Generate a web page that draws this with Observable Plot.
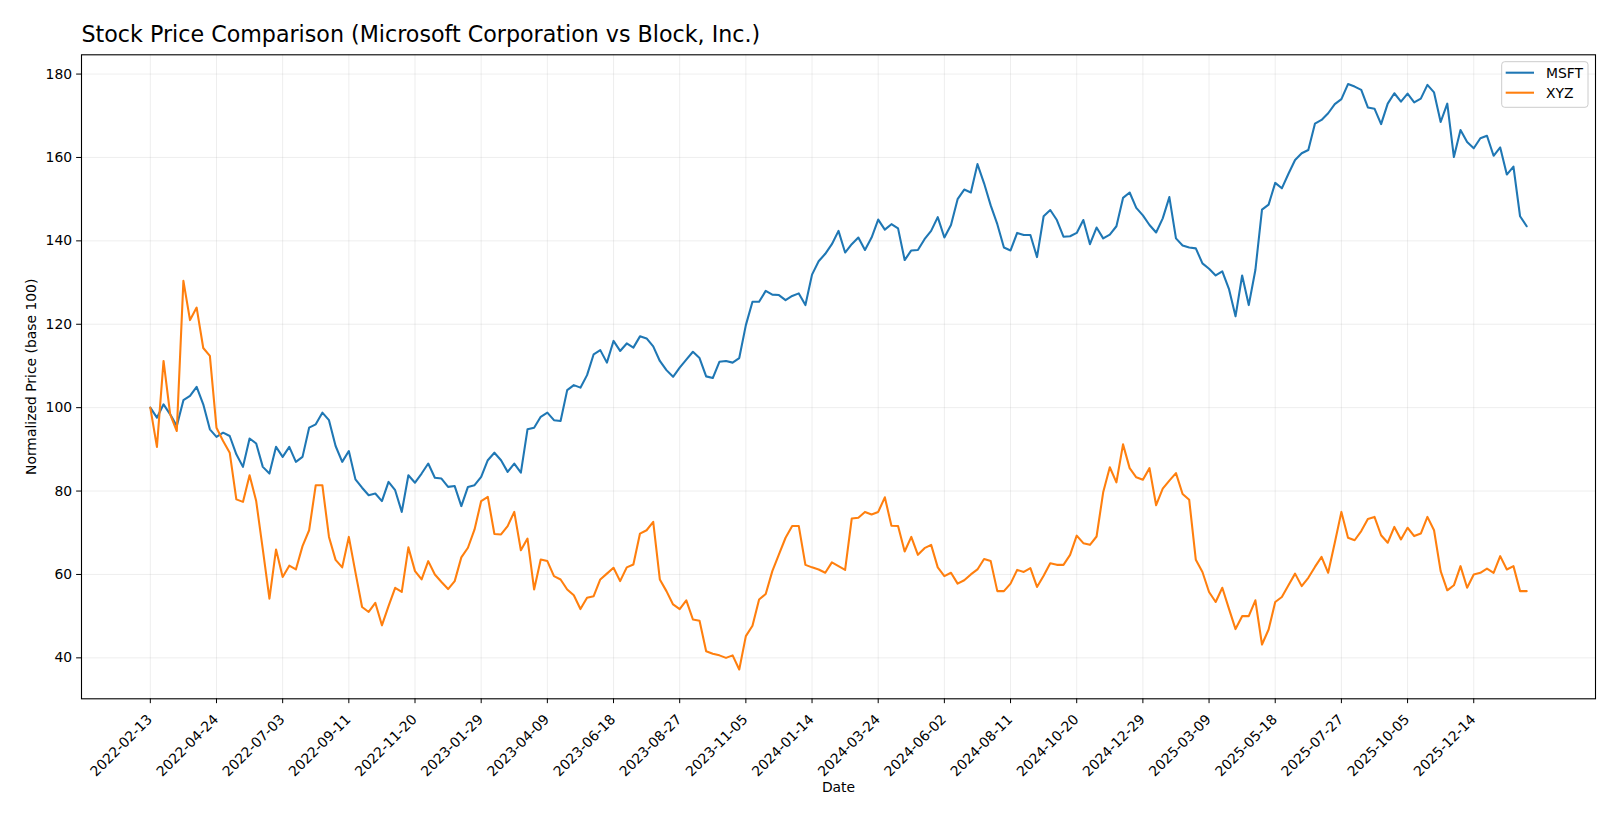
<!DOCTYPE html>
<html>
<head>
<meta charset="utf-8">
<script src="https://cdn.jsdelivr.net/npm/d3@7"></script>
<script src="https://cdn.jsdelivr.net/npm/@observablehq/plot@0.6"></script>
<style>
html, body { margin: 0; padding: 0; background: #fff; }
#chart { width: 1620px; height: 819px; }
</style>
</head>
<body>
<div id="chart"></div>
<script>
const title = "Stock Price Comparison (Microsoft Corporation vs Block, Inc.)";
const xLabel = "Date";
const yLabel = "Normalized Price (base 100)";
const seriesNames = ["MSFT", "XYZ"];
const seriesColors = ["#1f77b4", "#ff7f0e"];
const firstWeek = "2022-02-13";

const msft = [
100.0, 97.6, 100.8, 98.4, 95.6, 101.8, 102.8, 105.0, 100.8, 94.8,
93.0, 94.0, 93.2, 88.8, 85.8, 92.6, 91.4, 85.8, 84.2, 90.6,
88.2, 90.6, 87.0, 88.2, 95.2, 96.0, 98.8, 97.0, 90.8, 87.0,
89.6, 82.8, 80.8, 79.0, 79.4, 77.6, 82.2, 80.2, 75.0, 83.8,
82.0, 84.2, 86.6, 83.2, 83.0, 81.0, 81.2, 76.4, 81.0, 81.4,
83.4, 87.4, 89.2, 87.4, 84.6, 86.6, 84.4, 94.8, 95.2, 97.8,
98.8, 97.0, 96.8, 104.2, 105.4, 104.8, 107.8, 112.8, 113.8, 110.8,
116.0, 113.6, 115.4, 114.4, 117.1, 116.6, 114.7, 111.2, 109.0, 107.4,
109.6, 111.5, 113.4, 111.9, 107.5, 107.1, 111.0, 111.2, 110.8, 111.9,
119.8, 125.4, 125.4, 128.0, 127.1, 127.0, 125.8, 126.8, 127.4, 124.6,
131.9, 135.1, 136.9, 139.2, 142.4, 137.2, 139.2, 140.8, 137.8, 140.8,
145.1, 142.7, 144.0, 143.0, 135.4, 137.7, 137.8, 140.4, 142.4, 145.7,
140.8, 143.8, 150.0, 152.3, 151.6, 158.4, 153.8, 148.5, 144.0, 138.4,
137.7, 141.9, 141.4, 141.4, 136.1, 145.9, 147.4, 145.0, 141.0, 141.1,
141.9, 145.0, 139.2, 143.2, 140.6, 141.5, 143.5, 150.3, 151.6, 147.9,
146.1, 143.8, 142.0, 145.4, 150.5, 140.6, 138.9, 138.4, 138.2, 134.6,
133.3, 131.7, 132.7, 128.5, 121.9, 131.7, 124.6, 133.0, 147.5, 148.7,
153.9, 152.6, 156.1, 159.4, 161.0, 161.8, 168.1, 169.0, 170.6, 172.8,
174.0, 177.6, 177.0, 176.2, 172.0, 171.7, 168.0, 172.9, 175.4, 173.4,
175.3, 173.2, 174.1, 177.4, 175.6, 168.5, 172.9, 160.1, 166.6, 163.7,
162.2, 164.6, 165.2, 160.4, 162.4, 155.9, 157.8, 145.9, 143.5
];

const xyz = [
100.0, 90.6, 111.2, 98.4, 94.4, 130.4, 121.0, 124.0, 114.3, 112.4,
95.2, 92.0, 89.2, 78.0, 77.4, 83.8, 77.6, 66.0, 54.2, 66.0,
59.4, 62.1, 61.2, 66.8, 70.6, 81.4, 81.4, 69.0, 63.5, 61.7,
69.0, 60.5, 52.2, 51.0, 53.2, 47.8, 52.4, 56.8, 55.8, 66.5,
60.8, 58.8, 63.2, 60.0, 58.2, 56.5, 58.4, 64.1, 66.4, 70.8,
77.6, 78.6, 69.7, 69.6, 71.6, 75.0, 65.8, 68.6, 56.4, 63.6,
63.2, 59.6, 58.8, 56.4, 55.0, 51.7, 54.4, 54.8, 58.8, 60.2,
61.6, 58.4, 61.7, 62.4, 69.8, 70.6, 72.6, 58.8, 56.0, 52.8,
51.7, 53.8, 49.2, 48.9, 41.6, 41.0, 40.6, 40.0, 40.6, 37.2,
45.2, 47.7, 54.0, 55.3, 60.8, 64.8, 68.8, 71.6, 71.6, 62.3,
61.7, 61.2, 60.4, 62.9, 62.0, 61.1, 73.4, 73.6, 75.0, 74.4,
75.0, 78.5, 71.7, 71.6, 65.5, 69.0, 64.7, 66.3, 67.1, 61.7,
59.6, 60.4, 57.8, 58.6, 60.0, 61.2, 63.7, 63.2, 56.0, 56.0,
57.8, 61.1, 60.6, 61.5, 57.0, 59.7, 62.7, 62.3, 62.3, 64.7,
69.3, 67.5, 67.1, 69.1, 79.7, 85.7, 82.1, 91.2, 85.5, 83.3,
82.7, 85.5, 76.6, 80.6, 82.5, 84.3, 79.3, 77.9, 63.5, 60.6,
55.8, 53.4, 56.8, 51.8, 46.9, 50.0, 50.0, 53.8, 43.2, 46.8,
53.4, 54.6, 57.4, 60.2, 57.2, 59.2, 61.8, 64.2, 60.4, 67.6,
75.0, 68.8, 68.2, 70.4, 73.3, 73.8, 69.4, 67.6, 71.4, 68.4,
71.2, 69.2, 69.8, 73.8, 70.6, 60.8, 56.2, 57.4, 62.0, 56.8,
60.0, 60.4, 61.4, 60.4, 64.4, 61.2, 62.0, 56.0, 56.0
];

const xTickLabels = [
"2022-02-13", "2022-04-24", "2022-07-03", "2022-09-11", "2022-11-20",
"2023-01-29", "2023-04-09", "2023-06-18", "2023-08-27", "2023-11-05",
"2024-01-14", "2024-03-24", "2024-06-02", "2024-08-11", "2024-10-20",
"2024-12-29", "2025-03-09", "2025-05-18", "2025-07-27", "2025-10-05",
"2025-12-14"
];
const yTicks = [40, 60, 80, 100, 120, 140, 160, 180];

const parse = d3.utcParse("%Y-%m-%d");
const start = parse(firstWeek);
const dates = msft.map((_, i) => d3.utcDay.offset(start, 7 * i));
const seriesValues = [msft, xyz];
const rows = [];
seriesNames.forEach((name, s) => {
  seriesValues[s].forEach((v, i) => rows.push({date: dates[i], value: v, series: name}));
});
const tickDates = xTickLabels.map(parse);

const xExt = d3.extent(dates);
const xPad = (xExt[1] - xExt[0]) * 0.05;
const yExt = d3.extent(msft.concat(xyz));
const yPad = (yExt[1] - yExt[0]) * 0.05;

const font = "'DejaVu Sans', sans-serif";
const fs = 13.9;
const gridStyle = {stroke: "#b0b0b0", strokeOpacity: 0.22, strokeWidth: 1};

const plot = Plot.plot({
  width: 1620,
  height: 819,
  marginTop: 54.3,
  marginBottom: 120.7,
  marginLeft: 81,
  marginRight: 25,
  style: {fontFamily: font, fontSize: fs + "px", color: "#000", background: "#fff", overflow: "visible"},
  x: {type: "utc", domain: [new Date(+xExt[0] - xPad), new Date(+xExt[1] + xPad)]},
  y: {domain: [yExt[0] - yPad, yExt[1] + yPad]},
  color: {domain: seriesNames, range: seriesColors},
  marks: [
    Plot.gridX(tickDates, gridStyle),
    Plot.gridY(yTicks, gridStyle),
    Plot.lineY(rows, {x: "date", y: "value", z: "series", stroke: "series", strokeWidth: 2.08, strokeLinejoin: "round"}),
    Plot.frame({stroke: "#000", strokeWidth: 1.1}),
    Plot.axisY(yTicks, {tickSize: 4.86, tickPadding: 4.5, label: null, tickFormat: d => String(d), stroke: "#000", fontSize: fs}),
    Plot.axisX(tickDates, {tickSize: 4.86, tickFormat: () => "", label: null, stroke: "#000"}),
    Plot.text(tickDates, {x: d => d, text: (d, i) => xTickLabels[i], frameAnchor: "bottom", rotate: -45, textAnchor: "end", lineAnchor: "middle", dx: -0.4, dy: 18.3, fill: "#000", fontSize: fs}),
    Plot.text([yLabel], {text: d => d, frameAnchor: "left", rotate: -90, dx: -50, textAnchor: "middle", lineAnchor: "middle", fill: "#000", fontSize: fs}),
    Plot.text([xLabel], {text: d => d, frameAnchor: "bottom", dy: 88.7, textAnchor: "middle", lineAnchor: "middle", fill: "#000", fontSize: fs}),
    Plot.text([title], {text: d => d, frameAnchor: "top-left", textAnchor: "start", lineAnchor: "bottom", dy: -12.6, fontSize: 22.2, fill: "#000"})
  ]
});

// Legend (matplotlib-style, upper right)
const svg = d3.select(plot);
const lg = svg.append("g").attr("font-family", font).attr("font-size", fs + "px").attr("text-anchor", "start");
lg.append("rect")
  .attr("x", 1501.7).attr("y", 61.7).attr("width", 86.3).attr("height", 45.6)
  .attr("rx", 3).attr("fill", "#fff").attr("fill-opacity", 0.8)
  .attr("stroke", "#cccccc").attr("stroke-width", 1);
seriesNames.forEach((name, i) => {
  const yy = 72.7 + 20 * i;
  lg.append("line").attr("x1", 1505.7).attr("x2", 1534).attr("y1", yy).attr("y2", yy)
    .attr("stroke", seriesColors[i]).attr("stroke-width", 2.08);
  lg.append("text").attr("x", 1546).attr("y", yy).attr("dy", "0.36em")
    .attr("text-anchor", "start").attr("fill", "#000").text(name);
});

document.getElementById("chart").appendChild(plot);
</script>
</body>
</html>
